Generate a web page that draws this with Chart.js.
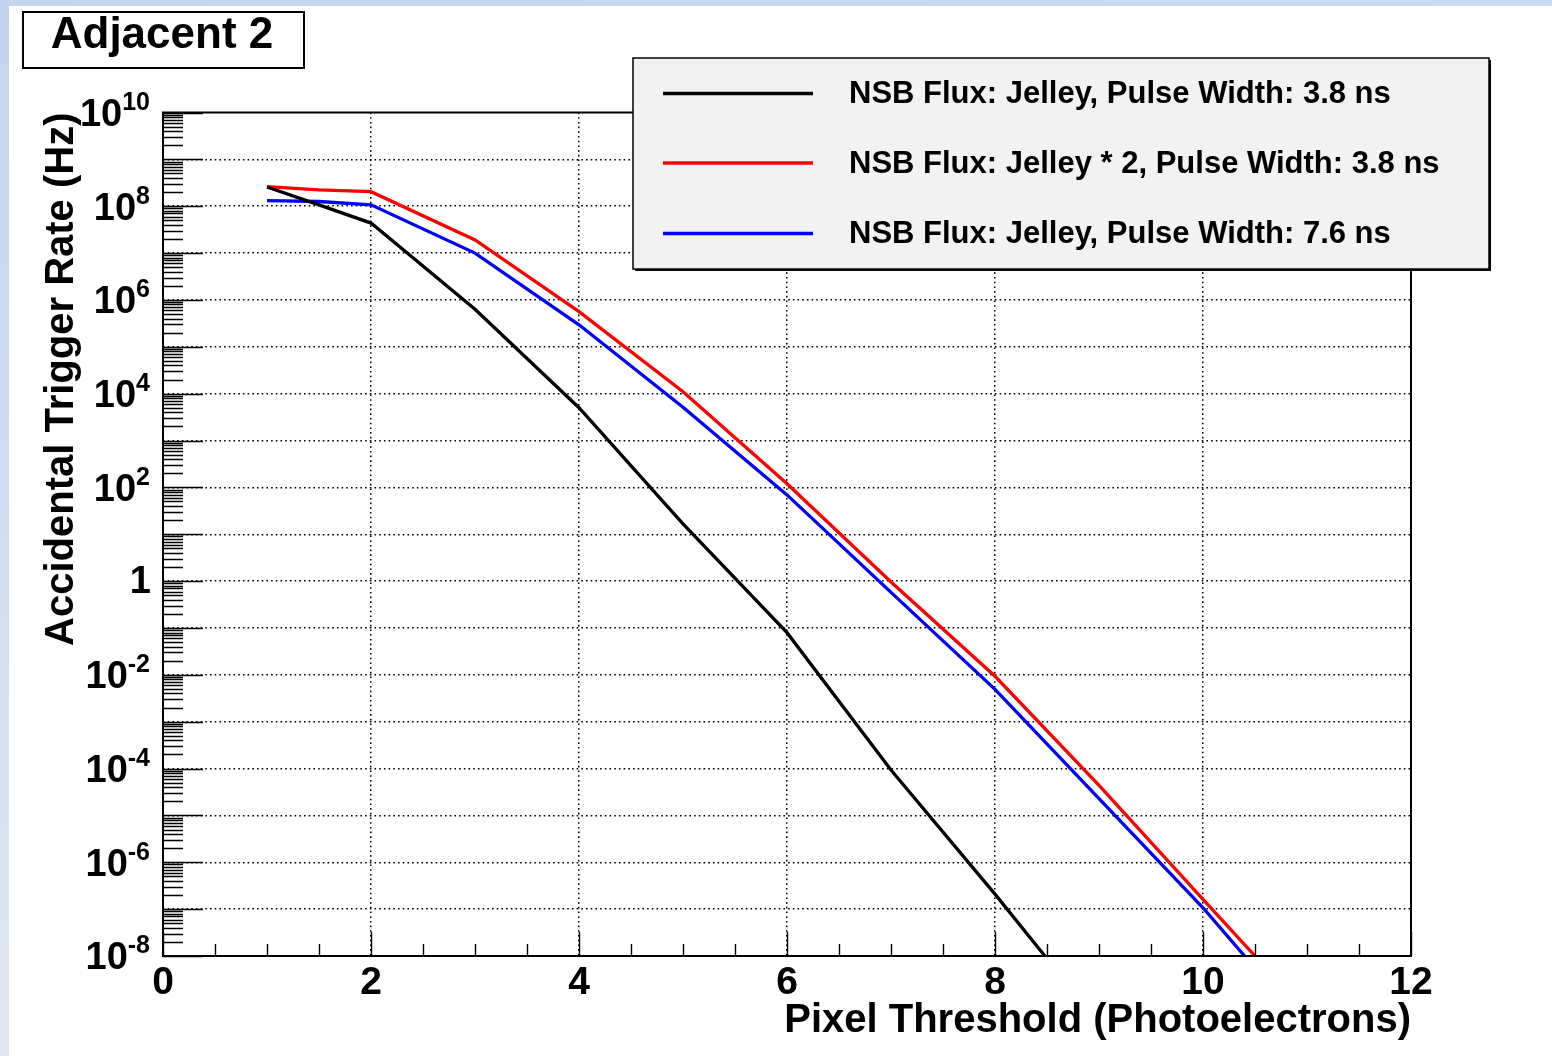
<!DOCTYPE html>
<html>
<head>
<meta charset="utf-8">
<script src="https://cdn.jsdelivr.net/npm/chart.js@4.4.1/dist/chart.umd.min.js"></script>
<style>
html,body{margin:0;padding:0;background:#fff;overflow:hidden}
#wrap{position:relative;width:1552px;height:1056px}
canvas{display:block}
</style>
</head>
<body>
<div id="wrap"><canvas id="c" width="1552" height="1056"></canvas></div>
<script>
// ---------- data ----------
const thresholds = [1, 1.5, 2, 3, 4, 5, 6, 7, 8, 9, 10, 10.5];
const rateJelley38ns    = [2.57e8, 1.07e8, 4.37e7, 6.31e5, 5.01e3, 16.6, 7.94e-2, 9.33e-5, 2.09e-7, 3.7e-10];
const rateJelleyX2_38ns = [2.63e8, 2.24e8, 2.04e8, 1.91e7, 5.62e5, 1.10e4, 120, 0.955, 9.33e-3, 4.37e-5, 1.62e-7, 1.0e-8];
const rateJelley76ns    = [1.32e8, 1.26e8, 1.07e8, 1.0e7, 2.95e5, 5.13e3, 69.2, 0.575, 4.90e-3, 2.29e-5, 1.07e-7, 5.5e-9];
const seriesLabels = [
  'NSB Flux: Jelley, Pulse Width: 3.8 ns',
  'NSB Flux: Jelley * 2, Pulse Width: 3.8 ns',
  'NSB Flux: Jelley, Pulse Width: 7.6 ns'
];
const seriesValues = [rateJelley38ns, rateJelleyX2_38ns, rateJelley76ns];
const seriesColors = ['#000000', '#ff0000', '#0000ff'];
const xTickValues = [0, 2, 4, 6, 8, 10, 12];
const xMinorStep = 0.5;
const yDecadeExponents = [-8, -7, -6, -5, -4, -3, -2, -1, 0, 1, 2, 3, 4, 5, 6, 7, 8, 9, 10];
const yLabelExponents = [10, 8, 6, 4, 2, 0, -2, -4, -6, -8];
const yMinorMantissas = [2, 3, 4, 5, 6, 7, 8, 9];
const chartTitle = 'Adjacent 2';
const xTitle = 'Pixel Threshold (Photoelectrons)';
const yTitle = 'Accidental Trigger Rate (Hz)';

// ---------- styles ----------
const FONT = "'Liberation Sans', Arial, Helvetica, sans-serif";
const DOT = [1.6, 3.1];
const gridColor = (c) => {
  const v = c.tick ? c.tick.value : null;
  if (v === 0 || v === 12 || v === 1e10 || v === 1e-8) return 'rgba(0,0,0,0)';
  return '#000';
};

const bgPlugin = {
  id: 'bg',
  beforeDraw(chart) {
    const ctx = chart.ctx, W = chart.width, H = chart.height;
    ctx.save();
    ctx.fillStyle = '#ffffff';
    ctx.fillRect(0, 0, W, H);
    let g = ctx.createLinearGradient(0, 0, 0, H);
    g.addColorStop(0, '#c3d4ee');
    g.addColorStop(1, '#e0e6f1');
    ctx.fillStyle = g;
    ctx.fillRect(0, 0, 9, H);
    g = ctx.createLinearGradient(0, 0, W, 0);
    g.addColorStop(0, '#c3d4ee');
    g.addColorStop(1, '#cadcf1');
    ctx.fillStyle = g;
    ctx.fillRect(0, 0, W, 6);
    ctx.restore();
  }
};

const framePlugin = {
  id: 'frame',
  afterDatasetsDraw(chart) {
    const ctx = chart.ctx, a = chart.chartArea;
    const xs = chart.scales.x, ys = chart.scales.y;
    ctx.save();
    ctx.strokeStyle = '#000';
    ctx.lineWidth = 1.4;
    ctx.beginPath();
    yDecadeExponents.forEach(e => {
      const p = Math.round(ys.getPixelForValue(Math.pow(10, e))) + 0.5;
      ctx.moveTo(a.left, p); ctx.lineTo(a.left + 40, p);
      if (e < 10) {
        yMinorMantissas.forEach(m => {
          const q = Math.round(ys.getPixelForValue(m * Math.pow(10, e))) + 0.5;
          ctx.moveTo(a.left, q); ctx.lineTo(a.left + 20, q);
        });
      }
    });
    for (let v = xs.min; v <= xs.max + 1e-9; v += xMinorStep) {
      const p = Math.round(xs.getPixelForValue(v)) + 0.5;
      const len = (Math.abs(v % 2) < 1e-9) ? 24 : 12;
      ctx.moveTo(p, a.bottom); ctx.lineTo(p, a.bottom - len);
    }
    ctx.stroke();
    ctx.lineWidth = 2;
    ctx.strokeRect(a.left, a.top, a.right - a.left, a.bottom - a.top);
    ctx.restore();
  },
  afterDraw(chart) {
    const ctx = chart.ctx, ys = chart.scales.y;
    ctx.save();
    ctx.fillStyle = '#000';
    const rightX = 150;
    yLabelExponents.forEach(e => {
      const p = ys.getPixelForValue(Math.pow(10, e));
      ctx.textBaseline = 'middle';
      if (e === 0) {
        ctx.font = `bold 38px ${FONT}`;
        ctx.textAlign = 'right';
        ctx.fillText('1', rightX + 1, p + 1);
        return;
      }
      const expStr = String(e);
      ctx.font = `bold 25px ${FONT}`;
      const ew = ctx.measureText(expStr).width;
      ctx.textAlign = 'left';
      ctx.fillText(expStr, rightX - ew, p - 9.5);
      ctx.font = `bold 38px ${FONT}`;
      ctx.textAlign = 'right';
      ctx.fillText('10', rightX - ew, p + 3);
    });

    // title box
    ctx.lineWidth = 2;
    ctx.strokeStyle = '#000';
    ctx.fillStyle = '#fff';
    ctx.fillRect(23, 12, 281, 56);
    ctx.strokeRect(23, 12, 281, 56);
    ctx.fillStyle = '#000';
    ctx.font = `bold 44px ${FONT}`;
    ctx.textAlign = 'center';
    ctx.textBaseline = 'middle';
    ctx.fillText(chartTitle, 162, 36);

    // legend
    const lx = 633, ly = 58, lw = 856, lh = 211;
    ctx.fillStyle = '#000';
    ctx.fillRect(lx + 2, ly + 2, lw, lh);
    ctx.fillStyle = '#f2f2f2';
    ctx.fillRect(lx, ly, lw, lh);
    ctx.lineWidth = 1.5;
    ctx.strokeRect(lx, ly, lw, lh);
    const rows = [93.5, 163, 233.5];
    chart.data.datasets.forEach((ds, i) => {
      const y = rows[i];
      ctx.strokeStyle = ds.borderColor;
      ctx.lineWidth = 3.3;
      ctx.beginPath();
      ctx.moveTo(663, y); ctx.lineTo(813, y);
      ctx.stroke();
      ctx.fillStyle = '#000';
      ctx.font = `bold 31px ${FONT}`;
      ctx.textAlign = 'left';
      ctx.textBaseline = 'middle';
      ctx.fillText(ds.label, 849, y + 1);
    });
    ctx.restore();
  }
};

const toPoints = (ys) => ys.map((y, i) => ({ x: thresholds[i], y }));

new Chart(document.getElementById('c'), {
  type: 'line',
  data: {
    datasets: seriesLabels.map((label, i) => ({
      label,
      data: toPoints(seriesValues[i]),
      borderColor: seriesColors[i],
      backgroundColor: seriesColors[i],
      borderWidth: 3.3,
      pointRadius: 0,
      tension: 0,
      fill: false
    }))
  },
  options: {
    responsive: false,
    animation: false,
    devicePixelRatio: 1,
    layout: { padding: { left: 0, top: 112.5, right: 141, bottom: 0 } },
    plugins: { legend: { display: false }, tooltip: { enabled: false }, title: { display: false } },
    scales: {
      x: {
        type: 'linear', min: 0, max: 12, position: 'bottom',
        afterBuildTicks: s => { s.ticks = xTickValues.map(v => ({ value: v })); },
        afterFit: s => { s.height = 100; s.paddingLeft = 0; s.paddingRight = 0; },
        ticks: { font: { family: FONT, size: 39, weight: 'bold' }, color: '#000', padding: 4, maxRotation: 0, autoSkip: false },
        grid: { drawTicks: false, color: gridColor, lineWidth: 1.5, borderDash: DOT },
        border: { display: false, dash: DOT },
        title: { display: true, text: xTitle, align: 'end', color: '#000',
                 font: { family: FONT, size: 40, weight: 'bold' }, padding: { top: 0, bottom: 11 } }
      },
      y: {
        type: 'logarithmic', min: 1e-8, max: 1e10, position: 'left',
        afterBuildTicks: s => { s.ticks = yDecadeExponents.map(e => ({ value: Math.pow(10, e) })); },
        afterFit: s => { s.width = 163; s.paddingTop = 0; s.paddingBottom = 0; },
        ticks: { display: false },
        grid: { drawTicks: false, color: gridColor, lineWidth: 1.5, borderDash: DOT },
        border: { display: false, dash: DOT },
        title: { display: true, text: yTitle, align: 'end', color: '#000',
                 font: { family: FONT, size: 40, weight: 'bold' }, padding: { top: 38, bottom: 0 } }
      }
    }
  },
  plugins: [bgPlugin, framePlugin]
});
</script>
</body>
</html>
